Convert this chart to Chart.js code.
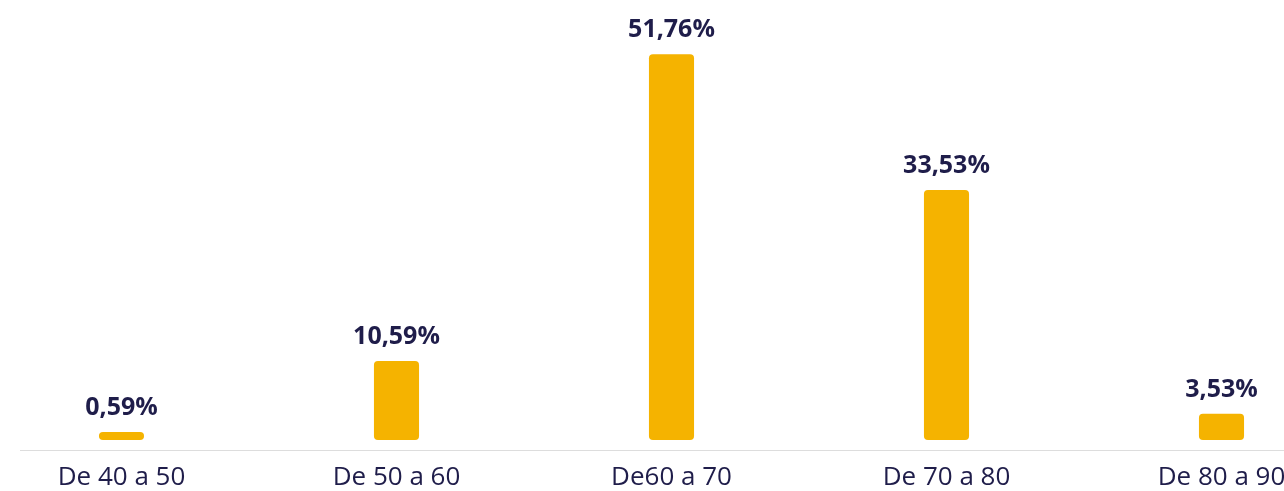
<!DOCTYPE html>
<html>
<head>
<meta charset="utf-8">
<script src="https://cdn.jsdelivr.net/npm/chart.js@4"></script>
<style>
    html, body { margin: 0; padding: 0; background: #ffffff; overflow: hidden; }
    #wrap { position: absolute; left: 20px; top: 0; width: 1264px; height: 491px; overflow: hidden; }
    #chart { position: absolute; left: -36px; top: 0; }
</style>
</head>
<body>
<div id="wrap"><canvas id="chart" width="1375" height="491"></canvas></div>
<script>
// chart data
const categories = ['De 40 a 50', 'De 50 a 60', 'De60 a 70', 'De 70 a 80', 'De 80 a 90'];
const percentages = [0.59, 10.59, 51.76, 33.53, 3.53];

const BAR_COLOR = '#F5B300';
const TEXT_COLOR = '#1F1D4A';

// draws "51,76%" style labels above each bar
const valueLabels = {
    id: 'valueLabels',
    afterDatasetsDraw(chart) {
        const ctx = chart.ctx;
        const meta = chart.getDatasetMeta(0);
        ctx.save();
        ctx.font = 'bold 25px "Open Sans"';
        ctx.fillStyle = TEXT_COLOR;
        ctx.textAlign = 'center';
        ctx.textBaseline = 'alphabetic';
        meta.data.forEach((bar, i) => {
            const txt = percentages[i].toFixed(2).replace('.', ',') + '%';
            ctx.fillText(txt, bar.x, bar.y - 17);
        });
        ctx.restore();
    }
};

new Chart(document.getElementById('chart'), {
    type: 'bar',
    data: {
        labels: categories,
        datasets: [{
            data: percentages,
            backgroundColor: BAR_COLOR,
            borderRadius: 4,
            borderSkipped: false,
            categoryPercentage: 1,
            barPercentage: 0.164,
            minBarLength: 8
        }]
    },
    options: {
        responsive: false,
        animation: false,
        layout: { padding: { top: 30, left: 0, right: 0, bottom: 0 } },
        plugins: {
            legend: { display: false },
            tooltip: { enabled: false }
        },
        scales: {
            x: {
                grid: { display: false, drawTicks: false },
                border: { display: true, color: '#DDDDDD', width: 1 },
                afterFit(scale) { scale.height = 41; },
                ticks: {
                    color: TEXT_COLOR,
                    padding: 12,
                    maxRotation: 0,
                    autoSkip: false,
                    font: { family: '"Open Sans"', size: 26 }
                }
            },
            y: {
                display: false,
                min: -1.34,
                max: 55
            }
        }
    },
    plugins: [valueLabels]
});
</script>
</body>
</html>
